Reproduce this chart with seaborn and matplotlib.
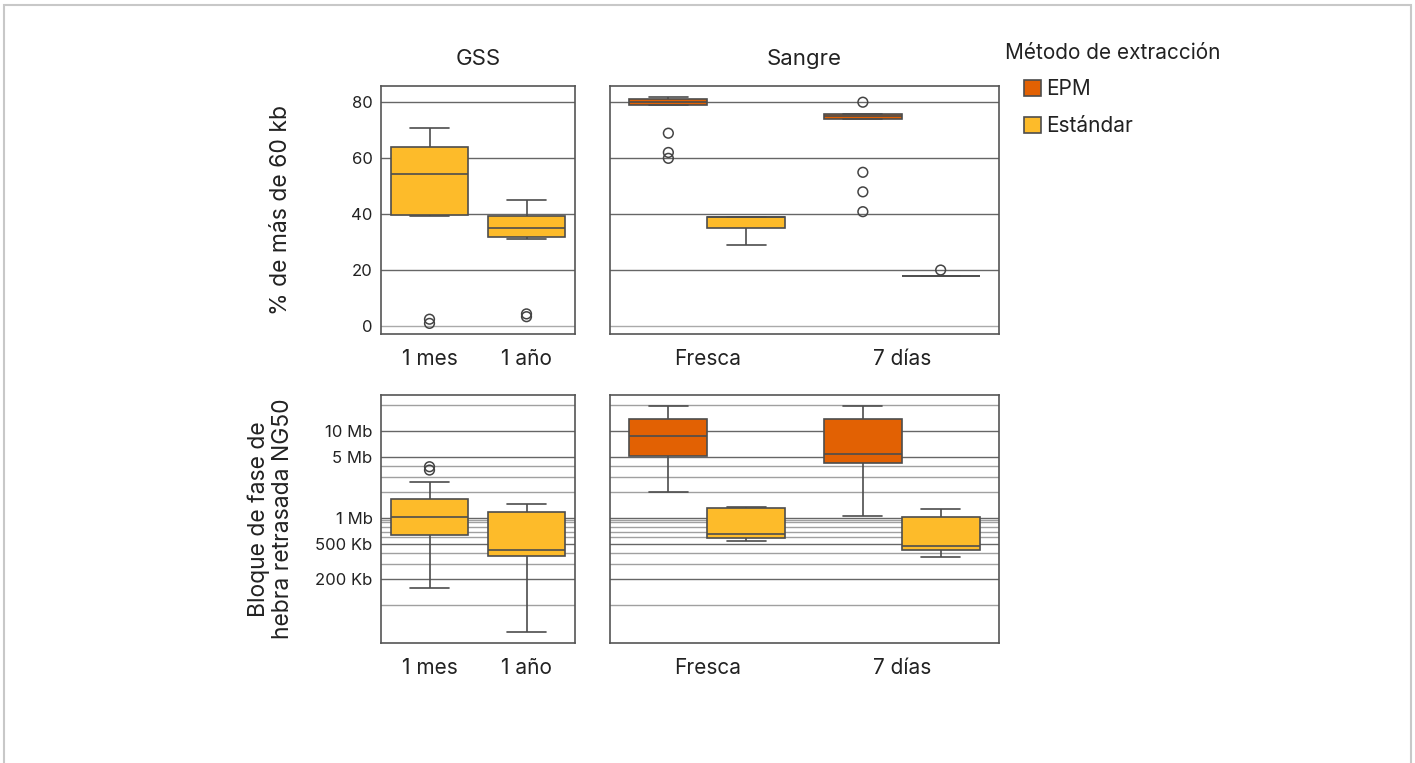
import pandas as pd
import matplotlib.pyplot as plt
import seaborn as sns
from matplotlib.patches import Rectangle
from matplotlib.ticker import FixedLocator, NullFormatter

# Categories
grupos_gss = ["1 mes", "1 año"]
grupos_sangre = ["Fresca", "7 días"]
metodos = ["EPM", "Estándar"]
colores = {"EPM": "#E26103", "Estándar": "#FDBB2A"}

# Five-number summaries (min, Q1, mediana, Q3, max)
# % de más de 60 kb
pct_gss_1mes = [39.4, 39.5, 54.3, 63.9, 70.8]
pct_gss_1ano = [30.9, 31.9, 34.9, 39.4, 44.9]
pct_fresca_epm = [78.9, 78.9, 80.0, 81.0, 81.9]
pct_fresca_std = [28.9, 34.9, 38.8, 38.8, 38.9]
pct_7d_epm = [73.9, 73.9, 75.0, 75.9, 75.9]
pct_7d_std = [17.9, 17.9, 17.9, 17.9, 17.9]

# outliers
pct_out_gss_1mes = [2.3, 0.8]
pct_out_gss_1ano = [4.2, 3.2]
pct_out_fresca_epm = [68.9, 62.0, 59.9]
pct_out_7d_epm = [80.0, 54.9, 47.9, 40.8]
pct_out_7d_std = [19.9]

# NG50 (pb)
ng50_gss_1mes = [155e3, 634e3, 1.03e6, 1.66e6, 2.6e6]
ng50_gss_1ano = [49.2e3, 367e3, 426e3, 1.165e6, 1.45e6]
ng50_fresca_epm = [2.01e6, 5.12e6, 8.7e6, 14.0e6, 19.5e6]
ng50_fresca_std = [541e3, 591e3, 662e3, 1.29e6, 1.35e6]
ng50_7d_epm = [1.07e6, 4.25e6, 5.44e6, 13.9e6, 19.4e6]
ng50_7d_std = [355e3, 427e3, 483e3, 1.02e6, 1.26e6]
ng50_out_gss_1mes = [3.9e6, 3.57e6]

# axis ticks
pct_ticks = [0, 20, 40, 60, 80]
ng50_ticks = [2e5, 5e5, 1e6, 5e6, 1e7]
ng50_tick_labels = ["200 Kb", "500 Kb", "1 Mb", "5 Mb", "10 Mb"]
ng50_grid_minor = [1e5, 3e5, 4e5, 6e5, 7e5, 8e5, 9e5, 9.5e5, 2e6, 3e6, 4e6, 2e7]


def long_df(items):
    rows = []
    for grupo, metodo, vals in items:
        for v in vals:
            rows.append({"grupo": grupo, "metodo": metodo, "valor": v})
    return pd.DataFrame(rows)


gss_pct = long_df([("1 mes", "Estándar", pct_gss_1mes), ("1 año", "Estándar", pct_gss_1ano)])
gss_pct_out = long_df([("1 mes", "Estándar", pct_out_gss_1mes), ("1 año", "Estándar", pct_out_gss_1ano)])
sangre_pct = long_df([("Fresca", "EPM", pct_fresca_epm), ("Fresca", "Estándar", pct_fresca_std),
                      ("7 días", "EPM", pct_7d_epm), ("7 días", "Estándar", pct_7d_std)])
sangre_pct_out = long_df([("Fresca", "EPM", pct_out_fresca_epm), ("7 días", "EPM", pct_out_7d_epm),
                          ("7 días", "Estándar", pct_out_7d_std)])
gss_ng50 = long_df([("1 mes", "Estándar", ng50_gss_1mes), ("1 año", "Estándar", ng50_gss_1ano)])
gss_ng50_out = long_df([("1 mes", "Estándar", ng50_out_gss_1mes)])
sangre_ng50 = long_df([("Fresca", "EPM", ng50_fresca_epm), ("Fresca", "Estándar", ng50_fresca_std),
                       ("7 días", "EPM", ng50_7d_epm), ("7 días", "Estándar", ng50_7d_std)])

sns.set_theme(style="white")
plt.rcParams["font.family"] = ["Inter", "DejaVu Sans"]

texto = "#222222"
linea = "#4d4d4d"
box_kw = dict(whis=(0, 100), showfliers=False, width=0.8, saturation=1,
              linecolor=linea, linewidth=1.2)

fig = plt.figure(figsize=(14.15, 7.63), dpi=100)
W, H = 1415, 763


def add_ax(x0, y0, x1, y1):
    return fig.add_axes([x0 / W, 1 - y1 / H, (x1 - x0) / W, (y1 - y0) / H])


ax_tl = add_ax(381, 86, 575, 334)
ax_tr = add_ax(610, 86, 999, 334)
ax_bl = add_ax(381, 395, 575, 643)
ax_br = add_ax(610, 395, 999, 643)


def outliers(ax, df, order, hue=True):
    n0 = len(ax.collections)
    if hue:
        sns.stripplot(data=df, x="grupo", y="valor", hue="metodo", hue_order=metodos,
                      order=order, dodge=True, jitter=False, palette=colores,
                      size=7, linewidth=1.1, edgecolor="#444444", legend=False, ax=ax)
    else:
        sns.stripplot(data=df, x="grupo", y="valor", order=order, jitter=False,
                      color=colores["Estándar"], size=7, linewidth=1.1,
                      edgecolor="#444444", ax=ax)
    for c in ax.collections[n0:]:
        c.set_facecolor("none")
        c.set_edgecolor("#444444")
        c.set_zorder(4)


# Top row
sns.boxplot(data=gss_pct, x="grupo", y="valor", order=grupos_gss,
            color=colores["Estándar"], ax=ax_tl, **box_kw)
outliers(ax_tl, gss_pct_out, grupos_gss, hue=False)
sns.boxplot(data=sangre_pct, x="grupo", y="valor", hue="metodo", hue_order=metodos,
            order=grupos_sangre, palette=colores, dodge=True, gap=0, ax=ax_tr, **box_kw)
handles, labels = ax_tr.get_legend_handles_labels()
ax_tr.get_legend().remove()
outliers(ax_tr, sangre_pct_out, grupos_sangre)

# Bottom row (log)
for ax in (ax_bl, ax_br):
    ax.set_yscale("log")
sns.boxplot(data=gss_ng50, x="grupo", y="valor", order=grupos_gss,
            color=colores["Estándar"], ax=ax_bl, **box_kw)
outliers(ax_bl, gss_ng50_out, grupos_gss, hue=False)
sns.boxplot(data=sangre_ng50, x="grupo", y="valor", hue="metodo", hue_order=metodos,
            order=grupos_sangre, palette=colores, dodge=True, gap=0, legend=False,
            ax=ax_br, **box_kw)

for ax in (ax_tl, ax_tr):
    ax.set_ylim(-3, 85.8)
    ax.set_yticks(pct_ticks)
    ax.yaxis.grid(True, color="#666666", linewidth=1.0)
    ax.get_ygridlines()[0].set_color("#aaaaaa")

for ax in (ax_bl, ax_br):
    ax.set_ylim(36.5e3, 26.1e6)
    ax.set_yticks(ng50_ticks)
    ax.set_yticklabels(ng50_tick_labels)
    ax.yaxis.set_minor_locator(FixedLocator(ng50_grid_minor))
    ax.yaxis.set_minor_formatter(NullFormatter())
    ax.yaxis.grid(True, which="major", color="#666666", linewidth=1.0)
    ax.yaxis.grid(True, which="minor", color="#a0a0a0", linewidth=1.0)

for ax in (ax_tl, ax_tr, ax_bl, ax_br):
    ax.set_axisbelow(True)
    ax.set_xlabel("")
    ax.set_ylabel("")
    ax.tick_params(axis="both", which="both", length=0)
    ax.tick_params(axis="x", labelsize=15, pad=11, colors=texto)
    ax.tick_params(axis="y", labelsize=12, pad=6, colors=texto)
    for s in ax.spines.values():
        s.set_color("#555555")
        s.set_linewidth(1.2)

for ax in (ax_tr, ax_br):
    ax.tick_params(axis="y", labelleft=False)

ax_tl.set_title("GSS", fontsize=16, pad=15, color=texto)
ax_tr.set_title("Sangre", fontsize=16, pad=15, color=texto)

ax_tl.set_ylabel("% de más de 60 kb", fontsize=16.5, color=texto)
ax_tl.yaxis.set_label_coords(-0.46, 0.5)
ax_bl.set_ylabel("Bloque de fase de\nhebra retrasada NG50", fontsize=16.5,
                 color=texto, linespacing=1.15)
ax_bl.yaxis.set_label_coords(-0.448, 0.5)

# Legend
fig.text(1005 / W, 1 - 53 / H, "Método de extracción", fontsize=15, va="center",
         ha="left", color=texto)
leg = fig.legend(handles, labels, loc="upper left", bbox_to_anchor=(1016 / W, 1 - 71 / H),
                 frameon=False, fontsize=15, handlelength=0.8, handleheight=0.8,
                 handletextpad=0.25, labelspacing=0.8, borderaxespad=0)
for t in leg.get_texts():
    t.set_color(texto)

# Card border
fig.patches.append(Rectangle((4 / W, -0.05), (1411 - 4) / W, 1 - 5 / H + 0.05,
                             transform=fig.transFigure, fill=False,
                             edgecolor="#c8c8c8", linewidth=1.5))

fig.savefig("out.png", dpi=100)
